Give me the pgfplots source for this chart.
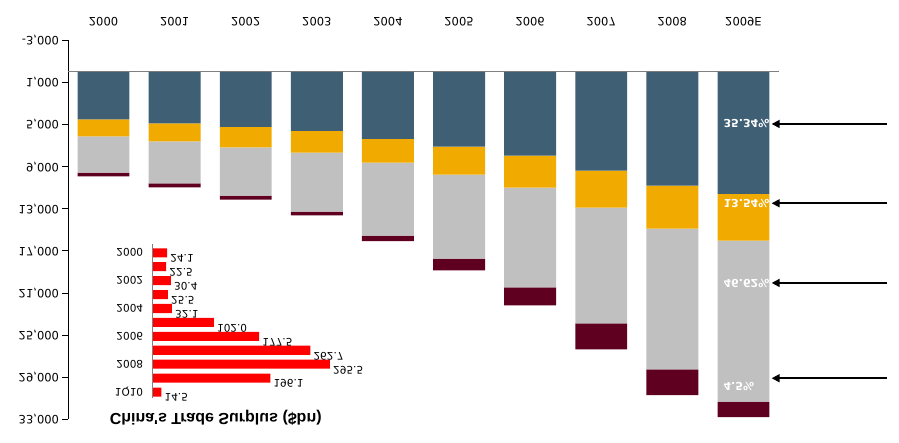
\documentclass[border=0pt]{standalone}
\usepackage{fontspec}
\setmainfont{DejaVu Sans}
\newfontfamily\arialfont{Liberation Sans}
\usepackage{pgfplots}
\pgfplotsset{compat=1.18}
\usetikzlibrary{arrows.meta}
\definecolor{cslate}{RGB}{63,95,117}
\definecolor{cgold}{RGB}{240,170,0}
\definecolor{cgray}{RGB}{192,192,192}
\definecolor{cmaroon}{RGB}{96,0,32}
\definecolor{axgray}{RGB}{128,128,128}
\begin{document}
\begin{tikzpicture}
\begin{axis}[
  name=main,
  at={(0,0)}, anchor=center,
  scale only axis, width=711bp, height=379bp,
  ybar stacked, bar width=0.73,
  xmin=-0.5, xmax=9.5,
  ymin=-3000, ymax=33000, y dir=reverse,
  ytick={-3000,1000,...,33000},
  scaled y ticks=false,
  xtick={0,...,9},
  xticklabels={2000,2001,2002,2003,2004,2005,2006,2007,2008,2009E},
  axis y line*=left, axis x line*=top,
  x axis line style={draw=none},
  xtick style={draw=none},
  ytick style={black, line width=0.8bp},
  tick align=outside,
  major tick length=5.5bp,
  y axis line style={black, line width=0.8bp, -},
  xticklabel style={yscale=-1, anchor=north, font=\fontsize{11.5bp}{13bp}\selectfont},
  xticklabel shift=5bp,
  yticklabel style={yscale=-1, anchor=east, font=\fontsize{11.5bp}{13bp}\selectfont},
  clip=false,
  /pgf/number format/1000 sep={,},
  /pgf/number format/assume math mode=true,
]
\addplot[fill=cslate, draw=none] coordinates {(0,4520) (1,4900) (2,5214) (3,5593) (4,6352) (5,7110) (6,7963) (7,9385) (8,10807) (9,11592)};
\addplot[fill=cgold, draw=none] coordinates {(0,1611) (1,1706) (2,1960) (3,2086) (4,2275) (5,2654) (6,3034) (7,3508) (8,4076) (9,4441)};
\addplot[fill=cgray, draw=none] coordinates {(0,3443) (1,3982) (2,4582) (3,5593) (4,6920) (5,7963) (6,9480) (7,10997) (8,13367) (9,15291)};
\addplot[fill=cmaroon, draw=none] coordinates {(0,350) (1,379) (2,379) (3,348) (4,537) (5,1138) (6,1706) (7,2465) (8,2465) (9,1476)};
\draw[axgray, line width=1.2bp] (axis cs:-0.5,0) -- (axis cs:9.5,0);
\draw[black, line width=0.8bp] (axis cs:-0.5,-3000) -- (axis cs:-0.5,33000);
\draw[black, line width=1.6bp, -{Triangle[length=8bp,width=8bp]}] (axis cs:11.02,4948) -- (axis cs:9.397,4948);
\draw[black, line width=1.6bp, -{Triangle[length=8bp,width=8bp]}] (axis cs:11.02,12479) -- (axis cs:9.397,12479);
\draw[black, line width=1.6bp, -{Triangle[length=8bp,width=8bp]}] (axis cs:11.02,20047) -- (axis cs:9.397,20047);
\draw[black, line width=1.6bp, -{Triangle[length=8bp,width=8bp]}] (axis cs:11.02,29098) -- (axis cs:9.397,29098);
\coordinate (pA) at (axis cs:8.717,4882);
\coordinate (pB) at (axis cs:8.717,12525);
\coordinate (pC) at (axis cs:8.717,20114);
\coordinate (pD) at (axis cs:8.717,29886);
\end{axis}
\node[yscale=-1, anchor=west, text=white, inner sep=0, font=\bfseries\fontsize{11bp}{13bp}\selectfont] at (pA) {35.34\%};
\node[yscale=-1, anchor=west, text=white, inner sep=0, font=\bfseries\fontsize{11bp}{13bp}\selectfont] at (pB) {13.54\%};
\node[yscale=-1, anchor=west, text=white, inner sep=0, font=\bfseries\fontsize{11bp}{13bp}\selectfont] at (pC) {46.62\%};
\node[yscale=-1, anchor=west, text=white, inner sep=0, font=\bfseries\fontsize{11bp}{13bp}\selectfont] at (pD) {4.5\%};
\begin{axis}[
  at={(-180.8bp,-91.5bp)}, anchor=center,
  scale only axis, width=180bp, height=154bp,
  xbar, bar width=0.65,
  xmin=0, xmax=300,
  ymin=1999.39, ymax=2010.45, y dir=reverse,
  hide x axis,
  axis y line*=left,
  y axis line style={axgray, line width=1bp, -},
  ytick={2000,2002,2004,2006,2008,2010},
  yticklabels={2000,2002,2004,2006,2008,1Q10},
  ytick style={draw=none},
  major tick length=0pt,
  yticklabel shift=6bp,
  yticklabel style={yscale=-1, anchor=east, font=\fontsize{10.5bp}{12bp}\selectfont},
  point meta=x,
  nodes near coords={\pgfmathprintnumber[fixed,precision=1,zerofill,assume math mode=true]{\pgfplotspointmeta}},
  every node near coord/.append style={yscale=-1, anchor=south west, inner sep=1.5bp, xshift=1.5bp, black, font=\fontsize{10.5bp}{12bp}\selectfont},
  clip=false,
]
\addplot[fill=red, draw=none] coordinates {(24.1,2000) (22.5,2001) (30.4,2002) (25.5,2003) (32.1,2004) (102.0,2005) (177.5,2006) (262.7,2007) (295.5,2008) (196.1,2009) (14.5,2010)};
\draw[axgray, line width=1bp] (axis cs:0,1999.39) -- (axis cs:0,2010.45);
\end{axis}
\node[yscale=-1, inner sep=0, font=\arialfont\bfseries\fontsize{16bp}{19bp}\selectfont] at (-207.8bp,-188.2bp) {China's Trade Surplus (\$bn)};
\pgfresetboundingbox
\useasboundingbox (-423.5bp,-213.2bp) rectangle (475.5bp,229.8bp);
\end{tikzpicture}
\end{document}
